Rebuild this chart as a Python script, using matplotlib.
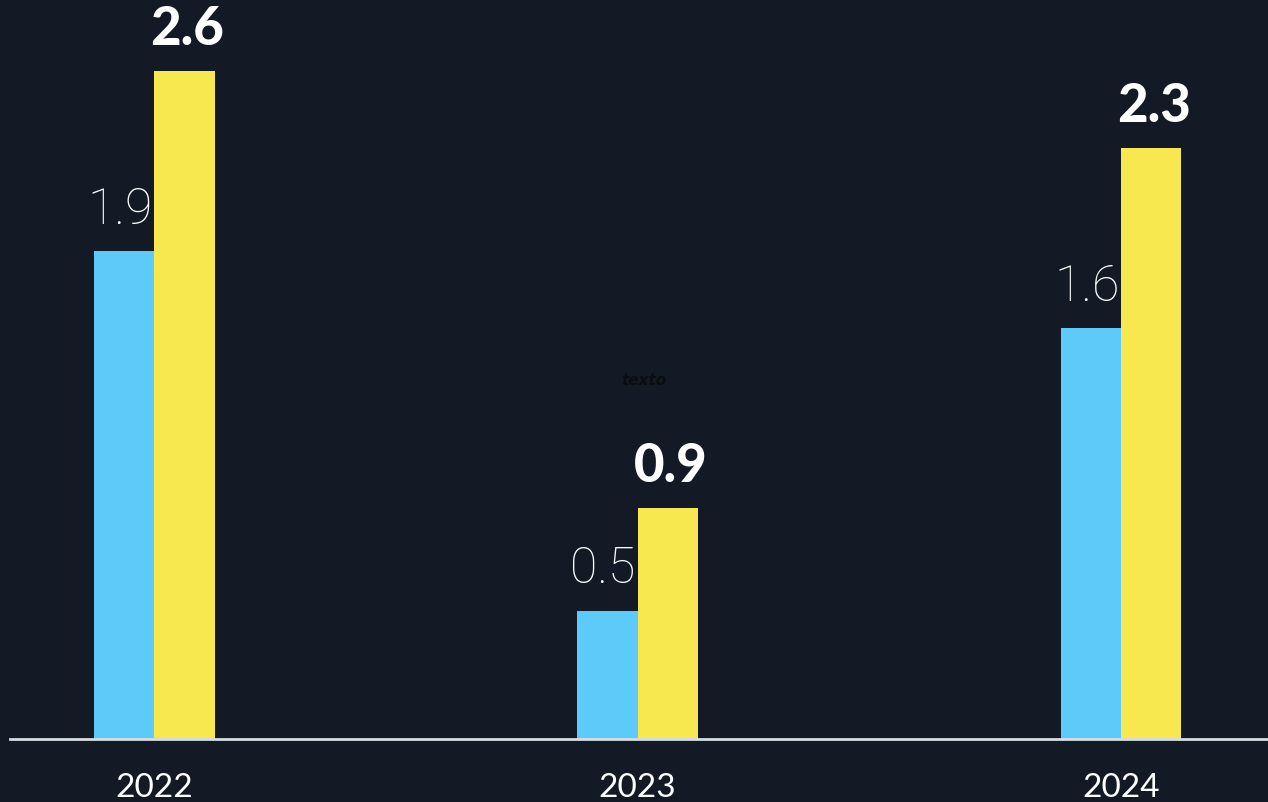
import numpy as np
import matplotlib
matplotlib.use("Agg")
import matplotlib.pyplot as plt

years = ["2022", "2023", "2024"]
blue_vals = [1.9, 0.5, 1.6]
yellow_vals = [2.6, 0.9, 2.3]

BG = "#131a25"
BLUE = "#5ccbfa"
YELLOW = "#f7e84f"

plt.rcParams['font.family'] = ['Lato', 'DejaVu Sans']

fig = plt.figure(figsize=(12.68, 8.03), dpi=100, facecolor=BG)
ax = fig.add_axes([10 / 1268, 63 / 803, 1258 / 1268, 740 / 803])
ax.set_facecolor(BG)

x = np.arange(len(years))
w = 0.125
b1 = ax.bar(x - w / 2, blue_vals, w, color=BLUE)
b2 = ax.bar(x + w / 2, yellow_vals, w, color=YELLOW)

# light numbers over the blue bars, heavy ones over the yellow bars
for rect, v in zip(b1, blue_vals):
    ax.annotate("{:.1f}".format(v), (rect.get_x() + rect.get_width() / 2, v),
                xytext=(-3, 13), textcoords="offset points", ha="center", va="bottom",
                fontsize=36, fontweight="light", color="white", family=["Roboto", "DejaVu Sans"])
for rect, v in zip(b2, yellow_vals):
    ax.annotate("{:.1f}".format(v), (rect.get_x() + rect.get_width() / 2, v),
                xytext=(2, 13), textcoords="offset points", ha="center", va="bottom",
                fontsize=38, fontweight="black", color="white")

ax.text(1.0126, 1.40, "texto", ha="center", va="center", fontsize=11,
        fontstyle="italic", fontweight="bold", color="#0b0d10", family="DejaVu Sans")

ax.set_xlim(-0.298, 2.304)
ax.set_ylim(0, 740 / 257)
for s in ["top", "right", "left"]:
    ax.spines[s].set_visible(False)
ax.spines["bottom"].set_color("#d6dde4")
ax.spines["bottom"].set_linewidth(2)
ax.set_yticks([])
ax.set_xticks(x)
ax.set_xticklabels(years, fontsize=24, color="white")
ax.tick_params(axis="x", length=0, pad=24)

plt.savefig("out.png", dpi=100, facecolor=BG)
